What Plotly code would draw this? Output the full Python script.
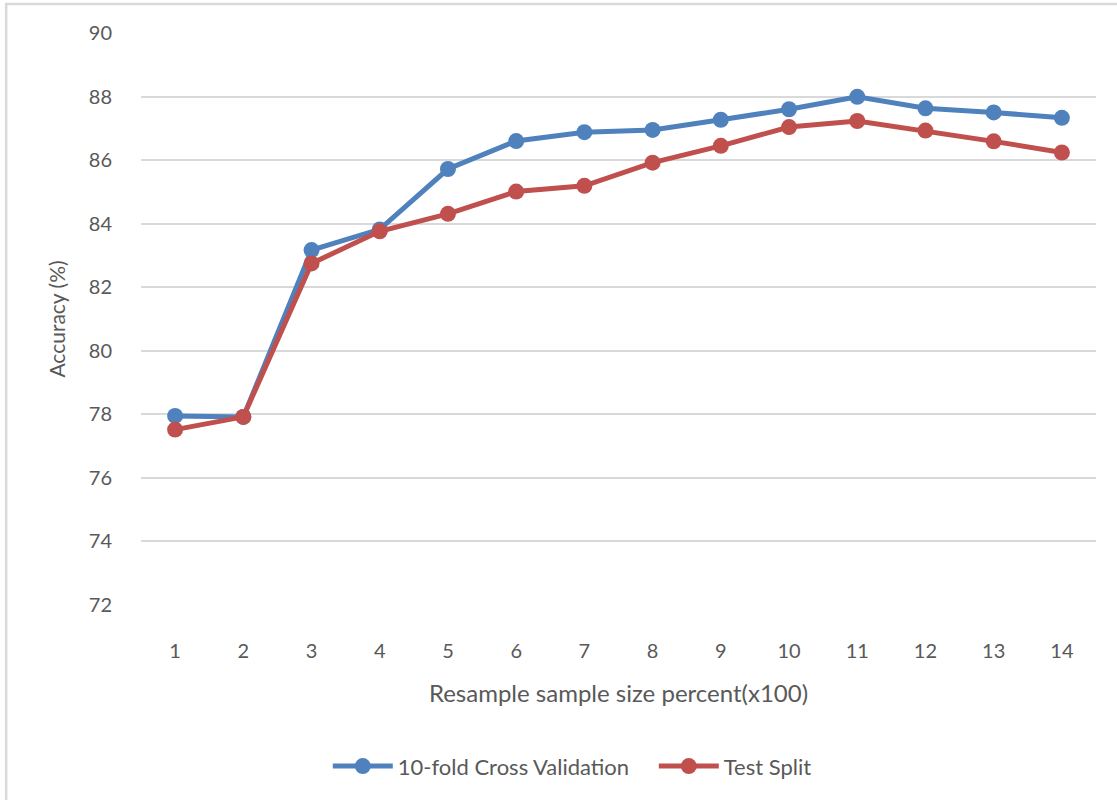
import plotly.graph_objects as go

# Resample sample size (x100) and accuracy of the two evaluation schemes
sample_sizes = ["1", "2", "3", "4", "5", "6", "7", "8", "9", "10", "11", "12", "13", "14"]
cross_validation = [77.95, 77.92, 83.17, 83.82, 85.72, 86.60, 86.88, 86.95, 87.27, 87.60, 87.99, 87.63, 87.50, 87.33]
test_split = [77.52, 77.92, 82.75, 83.76, 84.31, 85.01, 85.19, 85.92, 86.45, 87.04, 87.23, 86.93, 86.59, 86.24]
y_ticks = [72, 74, 76, 78, 80, 82, 84, 86, 88, 90]

BLUE = "#4F81BD"
RED = "#C0504D"
TEXT = "#595959"
FONT = "Lato, Carlito, Calibri, sans-serif"

fig = go.Figure()
fig.add_trace(go.Scatter(
    x=sample_sizes, y=cross_validation, name="10-fold Cross Validation",
    mode="lines+markers",
    line=dict(color=BLUE, width=5),
    marker=dict(color=BLUE, size=16),
))
fig.add_trace(go.Scatter(
    x=sample_sizes, y=test_split, name="Test Split",
    mode="lines+markers",
    line=dict(color=RED, width=5),
    marker=dict(color=RED, size=16),
))

fig.update_layout(
    width=1117, height=800,
    margin=dict(l=141, r=21, t=33, b=195, autoexpand=False),
    paper_bgcolor="white", plot_bgcolor="white",
    font=dict(family=FONT, color=TEXT, size=20),
    showlegend=True,
    legend=dict(
        orientation="h", x=187 / 956, xanchor="left",
        y=-0.282, yanchor="middle",
        font=dict(size=22, color=TEXT),
        itemwidth=60,
        entrywidth=251, entrywidthmode="pixels",
    ),
    xaxis=dict(
        type="category",
        range=[-0.5, 13.5],
        showgrid=False, zeroline=False, showline=False,
        ticks="outside", ticklen=28, tickcolor="rgba(0,0,0,0)",
        tickfont=dict(size=20, color=TEXT),
        title=dict(text="Resample sample size percent(x100)",
                   font=dict(size=24, color=TEXT), standoff=24),
    ),
    yaxis=dict(
        range=[72, 90],
        tickvals=y_ticks,
        showgrid=True, gridcolor="#D9D9D9", gridwidth=1.5,
        zeroline=False, showline=False,
        ticks="outside", ticklen=24, tickcolor="rgba(0,0,0,0)",
        tickfont=dict(size=20, color=TEXT),
        title=dict(text="Accuracy (%)", font=dict(size=21, color=TEXT), standoff=17),
    ),
    shapes=[
        # light chart frame around the whole figure
        dict(type="rect", xref="paper", yref="paper",
             x0=-135 / 956, x1=1.2, y0=-0.6, y1=1 + 29 / 572,
             line=dict(color="#D9D9D9", width=2.5), fillcolor="rgba(0,0,0,0)",
             layer="below"),
    ],
)

fig.write_html("out.html")
